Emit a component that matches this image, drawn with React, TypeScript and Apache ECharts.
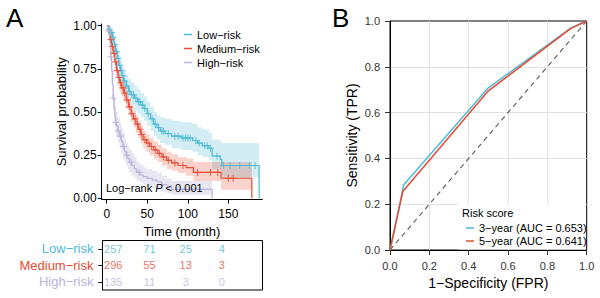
import React, { useEffect, useRef } from 'react';
import * as echarts from 'echarts';

const FONT = '"Liberation Sans", Arial, Helvetica, sans-serif';
const C_LOW = '#4DBBD5';
const C_MED = '#E64B35';
const C_HIGH = '#B8B4DA';
const C_LOW_BAND = 'rgba(77,187,213,0.25)';
const C_MED_BAND = 'rgba(230,75,53,0.25)';
const C_HIGH_BAND = 'rgba(170,165,210,0.28)';

const groupNames = ['Low−risk', 'Medium−risk', 'High−risk'];

// Kaplan–Meier curves (time in months, survival probability)
const lowTimes = [0, 3, 5, 7, 9, 11, 13, 15, 17, 19, 21, 24, 27, 30, 34, 38, 42, 46, 50, 54, 58, 62, 66, 72, 80, 92, 106, 112, 118, 126, 130, 140, 142, 188];
const lowSurv = [1, 0.98, 0.96, 0.93, 0.89, 0.85, 0.81, 0.77, 0.74, 0.71, 0.68, 0.65, 0.62, 0.6, 0.58, 0.56, 0.54, 0.52, 0.49, 0.46, 0.43, 0.41, 0.39, 0.375, 0.36, 0.35, 0.335, 0.32, 0.305, 0.29, 0.245, 0.225, 0.19, 0];
const lowUpper = [1, 1, 0.99, 0.97, 0.94, 0.9, 0.87, 0.83, 0.8, 0.77, 0.74, 0.71, 0.69, 0.67, 0.65, 0.63, 0.61, 0.59, 0.56, 0.53, 0.5, 0.48, 0.47, 0.46, 0.45, 0.44, 0.43, 0.41, 0.4, 0.38, 0.34, 0.33, 0.32, 0.32];
const lowLower = [1, 0.96, 0.93, 0.89, 0.85, 0.8, 0.76, 0.72, 0.68, 0.65, 0.62, 0.59, 0.56, 0.54, 0.51, 0.49, 0.47, 0.45, 0.42, 0.39, 0.36, 0.34, 0.32, 0.31, 0.29, 0.28, 0.27, 0.25, 0.24, 0.22, 0.17, 0.16, 0.12, 0.12];
const lowCensor = [3, 6, 8, 10, 12, 14, 16, 18, 20, 22, 25, 28, 31, 33, 36, 39, 41, 44, 47, 51, 56, 60, 64, 68, 70, 76, 84, 88, 94, 97, 100, 103, 110, 114, 121, 124, 128, 136, 144, 152, 164, 176, 183];

const medTimes = [0, 2, 4, 6, 8, 10, 12, 14, 16, 18, 21, 24, 27, 30, 33, 36, 39, 42, 45, 49, 53, 58, 63, 68, 74, 80, 88, 98, 107, 141, 179];
const medSurv = [1, 0.96, 0.92, 0.88, 0.84, 0.79, 0.74, 0.7, 0.67, 0.64, 0.61, 0.57, 0.53, 0.49, 0.46, 0.43, 0.4, 0.37, 0.34, 0.32, 0.3, 0.28, 0.26, 0.24, 0.22, 0.205, 0.19, 0.178, 0.15, 0.116, 0];
const medUpper = [1, 0.98, 0.95, 0.92, 0.88, 0.84, 0.79, 0.75, 0.72, 0.69, 0.66, 0.62, 0.58, 0.54, 0.51, 0.48, 0.45, 0.42, 0.39, 0.37, 0.35, 0.33, 0.31, 0.29, 0.27, 0.255, 0.24, 0.23, 0.21, 0.21, 0.21];
const medLower = [1, 0.94, 0.89, 0.84, 0.8, 0.75, 0.7, 0.65, 0.62, 0.59, 0.56, 0.52, 0.48, 0.44, 0.41, 0.38, 0.35, 0.32, 0.29, 0.27, 0.25, 0.23, 0.21, 0.19, 0.17, 0.16, 0.145, 0.13, 0.1, 0.05, 0.05];
const medCensor = [5, 7, 9, 11, 13, 15, 17, 20, 22, 25, 28, 31, 35, 38, 41, 43, 47, 51, 55, 60, 65, 70, 76, 84, 94, 112, 128, 137, 150, 156];

const highTimes = [0, 2, 4, 5, 6, 7, 8, 9, 10, 11, 12, 14, 16, 18, 20, 22, 24, 26, 28, 31, 34, 37, 41, 45, 50, 56, 62, 68, 74, 80, 130];
const highSurv = [1, 0.97, 0.9, 0.82, 0.74, 0.66, 0.58, 0.52, 0.47, 0.44, 0.42, 0.39, 0.36, 0.33, 0.3, 0.27, 0.25, 0.23, 0.21, 0.19, 0.17, 0.15, 0.135, 0.125, 0.115, 0.105, 0.095, 0.08, 0.065, 0.052, 0];
const highUpper = [1, 1, 0.95, 0.88, 0.81, 0.73, 0.66, 0.6, 0.55, 0.52, 0.5, 0.47, 0.44, 0.41, 0.38, 0.35, 0.32, 0.3, 0.28, 0.26, 0.24, 0.21, 0.195, 0.18, 0.17, 0.16, 0.15, 0.13, 0.115, 0.1, 0.1];
const highLower = [1, 0.94, 0.85, 0.76, 0.67, 0.59, 0.51, 0.45, 0.4, 0.37, 0.35, 0.32, 0.29, 0.26, 0.23, 0.21, 0.19, 0.17, 0.15, 0.13, 0.12, 0.1, 0.09, 0.08, 0.07, 0.06, 0.05, 0.04, 0.03, 0.02, 0.02];
const highCensor = [3, 5, 8, 11, 14, 17, 21, 25, 30, 40];

const timeTicks = [0, 50, 100, 150];
const survTicks = [0, 0.25, 0.5, 0.75, 1];

// Number at risk table
const riskTimes = [0, 50, 100, 150];
const lowAtRisk = [257, 71, 25, 4];
const medAtRisk = [296, 55, 13, 3];
const highAtRisk = [135, 11, 3, 0];

// ROC curves
const rocNames = ['3−year (AUC = 0.653)', '5−year (AUC = 0.641)'];
const roc3Fpr = [0, 0.07, 0.5, 0.8, 0.92, 1];
const roc3Tpr = [0, 0.285, 0.708, 0.895, 0.97, 1];
const roc5Fpr = [0, 0.065, 0.5, 0.8, 0.92, 1];
const roc5Tpr = [0, 0.255, 0.695, 0.89, 0.968, 1];
const rocTicks = [0, 0.2, 0.4, 0.6, 0.8, 1];

function stepAt(times: number[], surv: number[], t: number) {
  let v = surv[0];
  for (let i = 0; i < times.length; i++) if (times[i] <= t) v = surv[i];
  return v;
}

function bandSeries(times: number[], upper: number[], lower: number[], fill: string) {
  return {
    type: 'custom',
    xAxisIndex: 0,
    yAxisIndex: 0,
    silent: true,
    z: 1,
    data: [[times[0], upper[0]]],
    encode: { x: 0, y: 1 },
    renderItem: (_p: any, api: any) => {
      const pts: number[][] = [];
      for (let i = 0; i < times.length - 1; i++) {
        pts.push(api.coord([times[i], upper[i]]));
        pts.push(api.coord([times[i + 1], upper[i]]));
      }
      for (let i = times.length - 2; i >= 0; i--) {
        pts.push(api.coord([times[i + 1], lower[i]]));
        pts.push(api.coord([times[i], lower[i]]));
      }
      return { type: 'polygon', shape: { points: pts }, style: { fill } };
    },
  };
}

const PLUS = 'path://M3.8,0h1.4v3.8h3.8v1.4h-3.8v3.8h-1.4v-3.8h-3.8v-1.4h3.8z';

function kmLine(name: string, times: number[], surv: number[], color: string) {
  return {
    name,
    type: 'line',
    xAxisIndex: 0,
    yAxisIndex: 0,
    step: 'end',
    symbol: 'none',
    z: 3,
    color,
    lineStyle: { color, width: 1.2 },
    data: times.map((t, i) => [t, surv[i]]),
  };
}

function censorSeries(times: number[], surv: number[], cens: number[], color: string) {
  return {
    type: 'scatter',
    xAxisIndex: 0,
    yAxisIndex: 0,
    symbol: PLUS,
    symbolSize: 7,
    silent: true,
    z: 4,
    itemStyle: { color },
    data: cens.map((t) => [t, stepAt(times, surv, t)]),
  };
}

function riskSeries(name: string, counts: number[], color: string) {
  return {
    type: 'scatter',
    xAxisIndex: 2,
    yAxisIndex: 2,
    symbolSize: 1,
    silent: true,
    itemStyle: { color: 'rgba(0,0,0,0)' },
    label: {
      show: true,
      position: 'inside',
      formatter: (p: any) => String(p.data[2]),
      color,
      fontSize: 11,
      fontFamily: FONT,
    },
    data: riskTimes.map((t, i) => [t, name, counts[i]]),
  };
}

const rowColor: Record<string, string> = {
  'Low−risk': C_LOW,
  'Medium−risk': C_MED,
  'High−risk': C_HIGH,
};

export default function App() {
  const ref = useRef<HTMLDivElement>(null);
  useEffect(() => {
    document.body.style.margin = '0';
    const chart = echarts.init(ref.current!, null, { renderer: 'svg' });
    const option: any = {
      animation: false,
      backgroundColor: '#fff',
      textStyle: { fontFamily: FONT },
      grid: [
        { left: 101.7, top: 24, width: 160.6, height: 175.5, outerBoundsMode: 'none', containLabel: false },
        { left: 390, top: 21, width: 196.7, height: 229, show: true, borderColor: '#000', borderWidth: 1, outerBoundsMode: 'none', containLabel: false },
        { left: 102.5, top: 240.5, width: 160, height: 49.5, show: true, borderColor: '#000', borderWidth: 1, outerBoundsMode: 'none', containLabel: false },
      ],
      xAxis: [
        {
          type: 'value', gridIndex: 0, min: -6.2, max: 191.9,
          axisLine: { show: true, onZero: false, lineStyle: { color: '#000', width: 1 } },
          axisTick: { show: true, length: 4, customValues: timeTicks, lineStyle: { color: '#000' } },
          axisLabel: { customValues: timeTicks, fontSize: 12, color: '#000', margin: 8 },
          splitLine: { show: false },
          name: 'Time (month)', nameLocation: 'middle', nameGap: 25,
          nameTextStyle: { fontSize: 13, color: '#000' },
        },
        {
          type: 'value', gridIndex: 1, min: 0, max: 1, interval: 0.1,
          axisLine: { show: true, onZero: false, lineStyle: { color: '#000', width: 1 } },
          axisTick: { show: true, length: 5, customValues: rocTicks, lineStyle: { color: '#333' } },
          axisLabel: { customValues: rocTicks, fontSize: 11, color: '#333', margin: 10, formatter: (v: number) => v.toFixed(1) },
          splitLine: { show: true, showMinLine: false, showMaxLine: false, lineStyle: { color: '#e2e2e2', width: 1 } },
          name: '1−Specificity (FPR)', nameLocation: 'middle', nameGap: 24,
          nameTextStyle: { fontSize: 14, color: '#000' },
        },
        {
          type: 'value', gridIndex: 2, min: -14.8, max: 206,
          axisLine: { show: false, onZero: false }, axisTick: { show: false }, axisLabel: { show: false }, splitLine: { show: false },
        },
      ],
      yAxis: [
        {
          type: 'value', gridIndex: 0, min: -0.007, max: 1.01,
          axisLine: { show: true, onZero: false, lineStyle: { color: '#000', width: 1 } },
          axisTick: { show: true, length: 4, customValues: survTicks, lineStyle: { color: '#000' } },
          axisLabel: { customValues: survTicks, fontSize: 12, color: '#000', margin: 5, formatter: (v: number) => v.toFixed(2) },
          splitLine: { show: false },
          name: 'Survival probability', nameLocation: 'middle', nameGap: 34,
          nameTextStyle: { fontSize: 13, color: '#000' },
        },
        {
          type: 'value', gridIndex: 1, min: 0, max: 1, interval: 0.1,
          axisLine: { show: true, onZero: false, lineStyle: { color: '#000', width: 1 } },
          axisTick: { show: true, length: 5, customValues: rocTicks, lineStyle: { color: '#333' } },
          axisLabel: { customValues: rocTicks, fontSize: 11, color: '#333', margin: 10, formatter: (v: number) => v.toFixed(1) },
          splitLine: { show: true, showMinLine: false, showMaxLine: false, lineStyle: { color: '#e2e2e2', width: 1 } },
          name: 'Sensitivity (TPR)', nameLocation: 'middle', nameGap: 31,
          nameTextStyle: { fontSize: 14, color: '#000' },
        },
        {
          type: 'category', gridIndex: 2,
          data: ['High−risk', 'Medium−risk', 'Low−risk'],
          axisLine: { show: true, onZero: false, lineStyle: { color: '#000' } },
          axisTick: { show: true, length: 4, alignWithLabel: true, interval: 0, lineStyle: { color: '#000' } },
          axisLabel: { fontSize: 13, margin: 9, interval: 0, hideOverlap: false, color: (v: string) => rowColor[v] },
          splitLine: { show: false },
        },
      ],
      legend: [
        {
          data: groupNames, orient: 'vertical', left: 184, top: 29, padding: 0,
          icon: 'rect', itemWidth: 8, itemHeight: 1.5, itemGap: 3,
          textStyle: { fontSize: 11, color: '#000', lineHeight: 11 },
          selectedMode: false,
        },
        {
          data: rocNames, orient: 'vertical', left: 466, top: 222.5, padding: 0,
          icon: 'rect', itemWidth: 8, itemHeight: 1.5, itemGap: 2,
          textStyle: { fontSize: 11, color: '#000', lineHeight: 11 },
          selectedMode: false,
        },
      ],
      graphic: [
        { type: 'text', left: 6, top: 5, z: 10, style: { text: 'A', fontSize: 26, fontFamily: FONT, fill: '#000' } },
        { type: 'text', left: 332, top: 5, z: 10, style: { text: 'B', fontSize: 26, fontFamily: FONT, fill: '#000' } },
        {
          type: 'text', x: 106, y: 188, z: 10,
          style: {
            text: '{a|Log−rank }{b|P}{a| < 0.001}',
            verticalAlign: 'middle',
            rich: {
              a: { fontSize: 11, fontFamily: FONT, fill: '#000' },
              b: { fontSize: 11, fontFamily: FONT, fontStyle: 'italic', fill: '#000' },
            },
          },
        },
        { type: 'rect', z: 1, shape: { x: 458, y: 204, width: 128, height: 45.5 }, style: { fill: '#fff' } },
        { type: 'text', x: 462, y: 212.5, z: 10, style: { text: 'Risk score', fontSize: 11, fontFamily: FONT, fill: '#000', verticalAlign: 'middle' } },
      ],
      series: [
        bandSeries(lowTimes, lowUpper, lowLower, C_LOW_BAND),
        bandSeries(medTimes, medUpper, medLower, C_MED_BAND),
        bandSeries(highTimes, highUpper, highLower, C_HIGH_BAND),
        kmLine(groupNames[0], lowTimes, lowSurv, C_LOW),
        kmLine(groupNames[1], medTimes, medSurv, C_MED),
        kmLine(groupNames[2], highTimes, highSurv, C_HIGH),
        censorSeries(lowTimes, lowSurv, lowCensor, C_LOW),
        censorSeries(medTimes, medSurv, medCensor, C_MED),
        censorSeries(highTimes, highSurv, highCensor, C_HIGH),
        {
          type: 'line', xAxisIndex: 1, yAxisIndex: 1, symbol: 'none', silent: true, z: 2,
          lineStyle: { color: '#666', width: 1.2, type: [5, 4] },
          data: [[0, 0], [1, 1]],
        },
        {
          name: rocNames[0], type: 'line', xAxisIndex: 1, yAxisIndex: 1, symbol: 'none', z: 3,
          color: C_LOW, lineStyle: { color: C_LOW, width: 1.5 },
          data: roc3Fpr.map((f, i) => [f, roc3Tpr[i]]),
        },
        {
          name: rocNames[1], type: 'line', xAxisIndex: 1, yAxisIndex: 1, symbol: 'none', z: 4,
          color: C_MED, lineStyle: { color: C_MED, width: 1.5 },
          data: roc5Fpr.map((f, i) => [f, roc5Tpr[i]]),
        },
        riskSeries('Low−risk', lowAtRisk, C_LOW),
        riskSeries('Medium−risk', medAtRisk, C_MED),
        riskSeries('High−risk', highAtRisk, C_HIGH),
      ],
    };
    chart.setOption(option);
    return () => chart.dispose();
  }, []);
  return <div ref={ref} style={{ position: 'fixed', left: 0, top: 0, width: 600, height: 298 }} />;
}
